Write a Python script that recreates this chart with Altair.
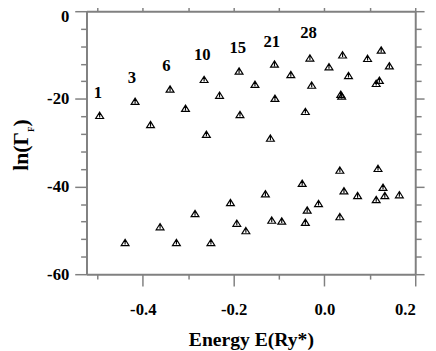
import altair as alt
import pandas as pd

# upper band (labelled states)
E_up = [-0.495, -0.417, -0.383, -0.340, -0.306, -0.265, -0.231, -0.260, -0.188, -0.186,
        -0.153, -0.110, -0.074, -0.109, -0.119, -0.032, -0.028, -0.042, 0.010, 0.040,
        0.053, 0.036, 0.038, 0.095, 0.125, 0.143, 0.121, 0.114]
G_up = [-23.8, -20.6, -25.9, -17.8, -22.2, -15.6, -19.2, -28.1, -13.7, -23.6,
        -16.7, -12.1, -14.5, -19.9, -29.0, -10.7, -16.9, -22.9, -12.7, -10.0,
        -14.7, -19.0, -19.4, -10.8, -8.9, -12.5, -15.8, -16.5]
# lower band
E_lo = [-0.439, -0.362, -0.326, -0.285, -0.250, -0.207, -0.193, -0.173, -0.130, -0.116,
        -0.094, -0.049, -0.038, -0.042, -0.013, 0.034, 0.043, 0.034, 0.073, 0.118,
        0.129, 0.133, 0.114, 0.165]
G_lo = [-52.8, -49.2, -52.8, -46.2, -52.8, -43.7, -48.4, -50.1, -41.7, -47.7,
        -47.9, -39.3, -45.4, -48.2, -43.9, -36.3, -41.0, -46.9, -42.1, -35.9,
        -40.2, -42.1, -43.0, -41.9]
# column labels
lab_text = ["1", "3", "6", "10", "15", "21", "28"]
lab_E = [-0.499, -0.424, -0.348, -0.269, -0.191, -0.116, -0.035]
lab_G = [-18.6, -15.2, -12.5, -10.0, -8.5, -7.0, -5.1]

x_ticks = [-0.5, -0.4, -0.3, -0.2, -0.1, 0.0, 0.1, 0.2]
y_ticks = [0, -4, -8, -12, -16, -20, -24, -28, -32, -36, -40, -44, -48, -52, -56, -60]

pts = pd.DataFrame({"E": E_up + E_lo, "G": G_up + G_lo})
labs = pd.DataFrame({"E": lab_E, "G": lab_G, "t": lab_text})

FONT = "Liberation Serif"
AX = "#808080"
xmaj = "abs(round(datum.value*10)) % 2 == 0"
ymaj = "datum.value % 20 == 0"

xs = alt.Scale(domain=[-0.524, 0.2], nice=False, zero=False)
ys = alt.Scale(domain=[-60, 0], nice=False, zero=False)

marker = "M0,-0.85L1,0.75L-1,0.75Z M0,-0.45L0,0.5"

points = alt.Chart(pts).mark_point(
    shape=marker, size=64, filled=False, stroke="#000", strokeWidth=1.2, opacity=1
).encode(
    x=alt.X("E:Q", scale=xs, axis=alt.Axis(
        orient="bottom", values=x_ticks, title="Energy E(Ry*)",
        labelExpr=f"{xmaj} ? replace(format(datum.value, '.1f'), '\u2212', '-') : ''",
        tickSize={"condition": {"test": xmaj, "value": 12}, "value": 5},
        labelPadding=16, titlePadding=13, grid=False,
    )),
    y=alt.Y("G:Q", scale=ys, axis=alt.Axis(
        orient="left", values=y_ticks, title=None,
        labelExpr=f"{ymaj} ? '' + datum.value : ''",
        tickSize={"condition": {"test": ymaj, "value": 12}, "value": 6},
        labelBaseline={"condition": {"test": "datum.value == 0", "value": "top"}, "value": "middle"},
        labelOffset={"condition": {"test": "datum.value == 0", "value": -3}, "value": 0},
        labelPadding=6, grid=False,
    )),
)

numbers = alt.Chart(labs).mark_text(
    font=FONT, fontWeight="bold", fontSize=17, color="#000", align="center", baseline="middle"
).encode(
    x=alt.X("E:Q", scale=xs, axis=alt.Axis(
        orient="top", values=x_ticks, labels=False, title=None, tickSize=7, grid=False)),
    y=alt.Y("G:Q", scale=ys, axis=alt.Axis(
        orient="right", values=y_ticks, labels=False, title=None,
        tickSize={"condition": {"test": ymaj, "value": 9}, "value": 6}, grid=False)),
    text="t:N",
)

ytitle_main = alt.Chart(pd.DataFrame({"t": ["ln(\u0393"]})).mark_text(
    font=FONT, fontWeight="bold", fontSize=22, angle=270, align="right", baseline="alphabetic", color="#000"
).encode(x=alt.value(-60), y=alt.value(123), text="t:N")
ytitle_sub = alt.Chart(pd.DataFrame({"t": ["F"]})).mark_text(
    font=FONT, fontWeight="bold", fontSize=9, angle=270, align="left", baseline="alphabetic", color="#000"
).encode(x=alt.value(-54), y=alt.value(123), text="t:N")
ytitle_close = alt.Chart(pd.DataFrame({"t": [")"]})).mark_text(
    font=FONT, fontWeight="bold", fontSize=22, angle=270, align="left", baseline="alphabetic", color="#000"
).encode(x=alt.value(-60), y=alt.value(117.5), text="t:N")

chart = alt.layer(points, numbers, ytitle_main, ytitle_sub, ytitle_close).resolve_axis(
    x="independent", y="independent"
).properties(
    width=335, height=268,
    autosize=alt.AutoSizeParams(type="none"),
    padding={"left": 80, "top": 0, "right": 13, "bottom": 75},
).configure_view(stroke=None).configure_axis(
    domainColor=AX, domainWidth=2, tickColor=AX, tickWidth=1.5,
    labelFont=FONT, labelFontWeight="bold", labelFontSize=17, labelColor="#000",
    titleFont=FONT, titleFontWeight="bold", titleFontSize=20, titleColor="#000",
)

chart.save("out.html", embed_options={"renderer": "svg", "actions": False})
